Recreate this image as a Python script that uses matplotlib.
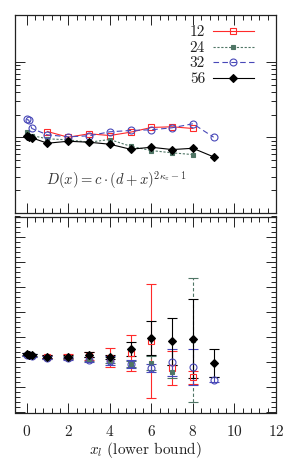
import numpy as np
import matplotlib
matplotlib.use("Agg")
import matplotlib.pyplot as plt
from matplotlib.ticker import FixedLocator, MultipleLocator, NullFormatter

plt.rcParams['font.family'] = ['cmr10', 'DejaVu Serif']
plt.rcParams['mathtext.fontset'] = 'cm'
plt.rcParams['axes.formatter.use_mathtext'] = True

# ---------------- data ----------------
labels = ["12", "24", "32", "56"]

x_12 = [1, 2, 3, 4, 5, 6, 7, 8]
x_24 = [0, 0.25, 1, 2, 3, 4, 5, 6, 7, 8]
x_32 = [0, 0.1, 0.25, 1, 2, 3, 4, 5, 6, 7, 8, 9]
x_56 = [0, 0.1, 0.25, 1, 2, 3, 4, 5, 6, 7, 8, 9]

# top panel: D(x) (log scale)
top_12 = [1.19, 1.00, 1.11, 1.053, 1.166, 1.347, 1.376, 1.306]
top_24 = [1.166, 1.053, 0.952, 0.923, 0.858, 0.932, 0.759, 0.665, 0.620, 0.588]
top_32 = [1.72, 1.69, 1.306, 1.076, 1.012, 1.044, 1.180, 1.228, 1.255, 1.334, 1.509, 1.00]
top_56 = [1.044, 1.00, 0.981, 0.832, 0.884, 0.858, 0.807, 0.692, 0.736, 0.685, 0.713, 0.548]

# bottom panel: fitted exponent with errors
bot_12 = [0.3228, 0.3228, 0.3248, 0.3188, 0.3368, 0.3848, 0.2768, 0.2400]
err_12 = [0.006, 0.009, 0.0156, 0.039, 0.073, 0.228, 0.067, 0.027]
bot_24 = [0.3316, 0.3268, 0.3188, 0.3188, 0.3128, 0.3108, 0.2936, 0.2960, 0.2628, 0.3868]
err_24 = [0.005, 0.005, 0.005, 0.005, 0.008, 0.012, 0.012, 0.027, 0.025, 0.247]
bot_32 = [0.3308, 0.3288, 0.3268, 0.3188, 0.3168, 0.3096, 0.3068, 0.2936, 0.2776, 0.3000, 0.2800, 0.2296]
err_32 = [0.005, 0.005, 0.005, 0.005, 0.006, 0.010, 0.018, 0.016, 0.015, 0.0534, 0.0714, 0.010]
bot_56 = [0.3336, 0.3308, 0.3280, 0.3228, 0.3228, 0.3308, 0.3228, 0.3536, 0.3976, 0.3828, 0.3936, 0.2960]
err_56 = [0.005, 0.005, 0.005, 0.005, 0.005, 0.010, 0.008, 0.028, 0.068, 0.092, 0.157, 0.055]

xs = [x_12, x_24, x_32, x_56]
tops = [top_12, top_24, top_32, top_56]
bots = [bot_12, bot_24, bot_32, bot_56]
errs = [err_12, err_24, err_32, err_56]

colors = ['#ff2a2a', '#4f7565', '#4848b8', '#000000']
markers = ['s', 's', 'o', 'D']
msizes = [4.5, 3.5, 5, 4]
mfcs = ['none', '#4f7565', 'none', '#000000']
lstyles = ['-', (0, (2, 1.5)), (0, (5, 3)), '-']

W, H = 291, 463
fig = plt.figure(figsize=(W / 100, H / 100), dpi=100)
ax1 = fig.add_axes([15 / W, 1 - 212.5 / H, 261 / W, 197.5 / H])
ax2 = fig.add_axes([15 / W, 1 - 412.5 / H, 261 / W, 196 / H])

for i in range(4):
    ax1.plot(xs[i], tops[i], color=colors[i], ls=lstyles[i], lw=0.8,
             marker=markers[i], ms=msizes[i], mfc=mfcs[i], mec=colors[i],
             mew=0.8, label=labels[i])
    eb = ax2.errorbar(xs[i], bots[i], yerr=errs[i], fmt=markers[i], color=colors[i],
                      ms=msizes[i], mfc=mfcs[i], mec=colors[i], mew=0.8,
                      elinewidth=0.8, capsize=3.5, capthick=0.8)
    if i == 1:
        for lc in eb[2]:
            lc.set_linestyle((0, (3, 2)))

ax1.set_yscale('log')
ax1.set_ylim(0.1, 42)
ax1.yaxis.set_major_locator(FixedLocator([0.1, 1, 10]))
ax1.yaxis.set_minor_locator(FixedLocator([0.2, 0.3, 0.4, 0.5, 0.6, 0.7, 0.8, 0.9,
                                          2, 3, 4, 5, 6, 7, 8, 9]))
ax2.set_ylim(0.1, 0.88)
ax2.yaxis.set_major_locator(MultipleLocator(0.1))
ax2.yaxis.set_minor_locator(MultipleLocator(0.02))

for ax in (ax1, ax2):
    ax.set_xlim(-0.56, 12)
    ax.xaxis.set_major_locator(FixedLocator([0, 2, 4, 6, 8, 10, 12]))
    ax.xaxis.set_minor_locator(FixedLocator([v for v in np.arange(0.4, 12, 0.4)
                                             if abs(v / 2 - round(v / 2)) > 0.01]))
    ax.tick_params(which='both', direction='in', top=True, right=True, color='#222222', width=0.7)
    ax.tick_params(which='major', length=7)
    ax.tick_params(which='minor', length=3.5)
    ax.yaxis.set_major_formatter(NullFormatter())
    ax.yaxis.set_minor_formatter(NullFormatter())
    for s in ax.spines.values():
        s.set_linewidth(0.9)
        s.set_color('#222222')

ax1.xaxis.set_major_formatter(NullFormatter())
ax2.tick_params(axis='x', which='major', labelsize=11, pad=8, labelcolor='#222222')
ax2.set_xlabel(r'$x_l$ (lower bound)', fontsize=11, labelpad=1, color='#222222')

ax1.text(0.12, 0.165, r'$D(x) = c\cdot(d+x)^{2\kappa_z-1}$', transform=ax1.transAxes,
         fontsize=10.5, va='center', ha='left', color='#333333')

leg = ax1.legend(loc='upper right', bbox_to_anchor=(0.945, 0.985), markerfirst=False,
                 frameon=False, handlelength=2.7, handletextpad=0.5, labelspacing=0.12,
                 borderpad=0, fontsize=11, numpoints=1)
for t in leg.get_texts():
    t.set_color('#222222')

fig.savefig('out.png', dpi=100)
